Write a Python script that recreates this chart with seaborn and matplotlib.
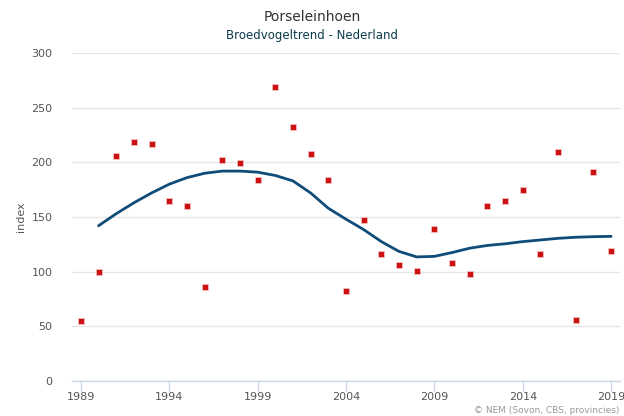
import pandas as pd
import matplotlib
matplotlib.use('Agg')
import matplotlib.pyplot as plt
import seaborn as sns

# Data
years = list(range(1989, 2020))
index_values = [55, 100, 206, 219, 217, 165, 160, 86, 202, 199,
                184, 269, 232, 208, 184, 82, 147, 116, 106, 101,
                139, 108, 98, 160, 165, 175, 116, 209, 56, 191, 119]
trend_years = list(range(1990, 2020))
trend_values = [142, 153, 163, 172, 180, 186, 190, 192, 192, 191,
                188, 183, 172, 158, 148, 138.5, 127.5, 118.5, 113.5, 114,
                117.5, 121.5, 124, 125.5, 127.5, 129, 130.5, 131.5, 132, 132.3]
y_ticks = [0, 50, 100, 150, 200, 250, 300]
x_ticks = [1989, 1994, 1999, 2004, 2009, 2014, 2019]

points = pd.DataFrame({'jaar': years, 'index': index_values})
trend = pd.DataFrame({'jaar': trend_years, 'index': trend_values})

sns.set_style('white')
plt.rcParams['font.family'] = ['DejaVu Sans']

fig = plt.figure(figsize = (6.24, 4.16), dpi = 100)
ax = fig.add_axes([0.1154, 0.0841, 0.8782, 0.7885])

# Trend line and yearly indices
sns.lineplot(data = trend, x = 'jaar', y = 'index', ax = ax,
             color = '#0f4c7a', linewidth = 2, zorder = 3)
sns.scatterplot(data = points, x = 'jaar', y = 'index', ax = ax,
                color = '#cc1111', marker = 's', s = 19,
                edgecolor = '#f3c9c9', linewidth = 0.5, zorder = 4)

ax.set_xlim(1988.5, 2019.5)
ax.set_ylim(0, 300)
ax.set_yticks(y_ticks)
ax.set_xticks(x_ticks)

# Grid
ax.grid(axis = 'y', color = '#e6e6e6', linewidth = 1)
ax.grid(axis = 'x', visible = False)
ax.set_axisbelow(True)
for side in ['top', 'right', 'left']:
    ax.spines[side].set_visible(False)
ax.spines['bottom'].set_color('#ccd6eb')
ax.spines['bottom'].set_linewidth(1)

ax.tick_params(axis = 'x', bottom = True, direction = 'out', colors = '#ccd6eb',
               length = 7, width = 1, labelcolor = '#555555', labelsize = 8, pad = 1)
ax.tick_params(axis = 'y', left = False, length = 0, labelcolor = '#555555',
               labelsize = 8, pad = 14)

ax.set_xlabel('')
ax.set_ylabel('index', color = '#555555', fontsize = 8, labelpad = 4)

# Titles
fig.text(0.5, 0.958, 'Porseleinhoen', ha = 'center', va = 'center',
         fontsize = 10, color = '#333333')
fig.text(0.5, 0.915, 'Broedvogeltrend - Nederland', ha = 'center', va = 'center',
         fontsize = 8.5, color = '#0b3c4d')
fig.text(0.993, 0.002, '\u00a9 NEM (Sovon, CBS, provincies)', ha = 'right', va = 'bottom',
         fontsize = 6.5, color = '#999999')

fig.savefig('out.png', dpi = 100)
